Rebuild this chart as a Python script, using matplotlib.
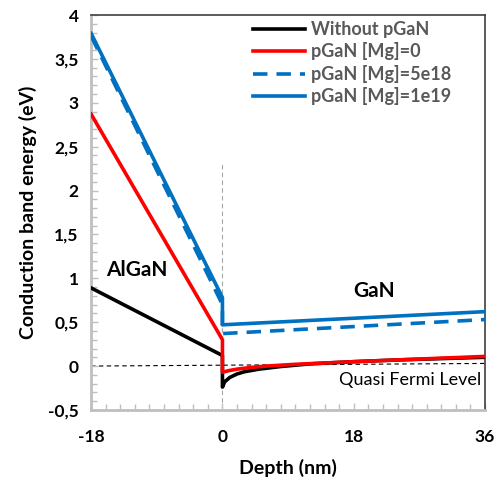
import numpy as np
import matplotlib
matplotlib.use('Agg')
import matplotlib.pyplot as plt
from matplotlib.ticker import MultipleLocator, FuncFormatter

plt.rcParams['font.family'] = ['Lato', 'DejaVu Sans']
plt.rcParams['axes.unicode_minus'] = False

# depth (nm) and conduction band energy (eV)
x_nopgan = [-18, 0, 0, 0.3, 1, 2, 3, 5, 8, 12, 18, 24, 30, 36]
y_nopgan = [0.89, 0.12, -0.24, -0.18, -0.13, -0.09, -0.065, -0.035, -0.005, 0.025, 0.05, 0.07, 0.085, 0.10]

x_mg0 = [-18, 0, 0, 1, 2, 4, 6, 10, 18, 27, 36]
y_mg0 = [2.87, 0.30, -0.07, -0.05, -0.035, -0.015, 0.0, 0.02, 0.05, 0.08, 0.11]

x_mg5e18 = [-18, 0, 0, 36]
y_mg5e18 = [3.76, 0.70, 0.37, 0.53]

x_mg1e19 = [-18, 0, 0, 36]
y_mg1e19 = [3.79, 0.78, 0.47, 0.62]

x_fermi = [-18, 36]
y_fermi = [0.0, 0.03]

fig = plt.figure(figsize=(4.98, 4.84), dpi=100)
ax = fig.add_axes([0.183, 0.153, 0.791, 0.816])

ax.plot(x_fermi, y_fermi, color='black', lw=0.8, ls=(0, (4, 3)), zorder=1)
ax.plot([0, 0], [-0.5, 2.3], color='#a6a6a6', lw=0.8, ls=(0, (4, 3)), zorder=1)

ax.plot(x_nopgan, y_nopgan, color='black', lw=2.6, label='Without pGaN', zorder=3)
ax.plot(x_mg0, y_mg0, color='#ff0000', lw=2.6, label='pGaN [Mg]=0', zorder=4)
ax.plot(x_mg5e18, y_mg5e18, color='#0070c0', lw=2.6, ls=(0, (4, 2.5)), label='pGaN [Mg]=5e18', zorder=5)
ax.plot(x_mg1e19, y_mg1e19, color='#0070c0', lw=2.6, label='pGaN [Mg]=1e19', zorder=5)

ax.set_xlim(-18, 36)
ax.set_ylim(-0.5, 4)
ax.xaxis.set_major_locator(MultipleLocator(18))
ax.xaxis.set_minor_locator(MultipleLocator(2))
ax.yaxis.set_major_locator(MultipleLocator(0.5))
ax.yaxis.set_minor_locator(MultipleLocator(0.1))
ax.yaxis.set_major_formatter(FuncFormatter(lambda v, p: ('%g' % v).replace('.', ',')))

ax.tick_params(which='both', direction='in', color='#bfbfbf', width=1)
ax.tick_params(which='major', length=5, labelsize=12.5)
ax.tick_params(axis='x', which='major', pad=14)
ax.tick_params(axis='y', which='major', pad=9)
ax.tick_params(which='minor', length=4)
for lab in ax.get_xticklabels() + ax.get_yticklabels():
    lab.set_fontweight('bold')

for s in ['left', 'bottom']:
    ax.spines[s].set_color('#bfbfbf')
    ax.spines[s].set_linewidth(2)
for s in ['top', 'right']:
    ax.spines[s].set_color('#404040')
    ax.spines[s].set_linewidth(1.2)

ax.set_xlabel('Depth (nm)', fontsize=14, fontweight='bold', labelpad=10)
ax.set_ylabel('Conduction band energy (eV)', fontsize=14, fontweight='bold', labelpad=8)

ax.text(-11.7, 1.1, 'AlGaN', fontsize=15, fontweight='bold', ha='center', va='center')
ax.text(20.8, 0.85, 'GaN', fontsize=15, fontweight='bold', ha='center', va='center')
ax.text(35.5, -0.16, 'Quasi Fermi Level', fontsize=13, ha='right', va='center')

leg = ax.legend(loc='upper left', bbox_to_anchor=(0.411, 0.985), fontsize=13, handlelength=2.9,
                frameon=False, borderpad=0, labelspacing=0.25, handletextpad=0.3,
                borderaxespad=0)
for t in leg.get_texts():
    t.set_fontweight('bold')
    t.set_color('#595959')

fig.savefig('out.png', dpi=100)
